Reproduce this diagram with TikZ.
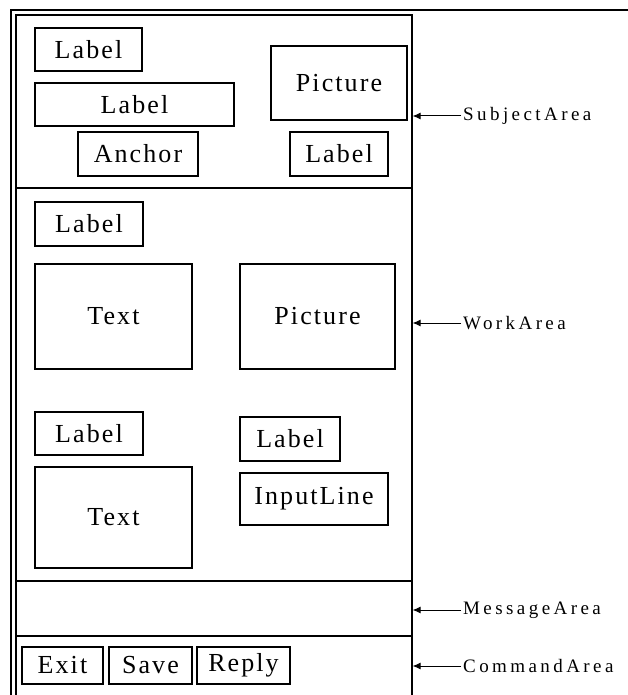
\documentclass[tikz,border=0pt]{standalone}
\usepackage{fontspec}
\usetikzlibrary{arrows.meta, positioning, calc}
\newfontfamily\widgetfont[LetterSpace=8]{Liberation Serif}
\newfontfamily\areafont[LetterSpace=18]{Liberation Serif}
\tikzset{
  widget/.style   = {draw, line width=1.2pt, inner sep=0pt,
                     font=\widgetfont\fontsize{26}{28}\selectfont},
  area/.style     = {draw, line width=1.2pt, inner sep=0pt, minimum width=396pt},
  arealabel/.style= {anchor=west, inner sep=2pt,
                     font=\areafont\fontsize{19}{21}\selectfont},
  pointer/.style  = {-{Latex[length=8pt,width=7pt]}, line width=1pt},
}

\begin{document}
\begin{tikzpicture}[x=1pt, y=-1pt]
  \useasboundingbox (0,0) rectangle (628,695);
  \clip (0,0) rectangle (628,695);
  % outer border
  \draw[line width=1.6pt] (11,700) -- (11,10) -- (628,10);
  % areas of the window
  \node[area, minimum height=173pt] (subject) at (214,101.5) {};
  \node[area, minimum height=393pt] (work)    at (214,384.5) {};
  \node[area, minimum height=55pt]  (message) at (214,608.5) {};
  \node[area, minimum height=104pt] (command) at (214,688) {};
  % subject area
  \node[widget, minimum width=107pt, minimum height=43pt] (sLabelA)  at (88.5,49.5)  {Label};
  \node[widget, minimum width=199pt, minimum height=43pt] (sLabelB)  at (134.5,104.5) {Label};
  \node[widget, minimum width=120pt, minimum height=44pt] (sAnchor)  at (138,154)    {Anchor};
  \node[widget, minimum width=136pt, minimum height=74pt] (sPicture) at (339,83)     {Picture};
  \node[widget, minimum width=98pt,  minimum height=44pt] (sLabelC)  at (339,154)    {Label};
  % work area
  \node[widget, minimum width=108pt, minimum height=44pt]  (wLabelA)   at (89,224)      {Label};
  \node[widget, minimum width=157pt, minimum height=105pt] (wTextA)    at (113.5,316.5) {Text};
  \node[widget, minimum width=155pt, minimum height=105pt] (wPicture)  at (317.5,316.5) {Picture};
  \node[widget, minimum width=108pt, minimum height=43pt]  (wLabelB)   at (89,433.5)    {Label};
  \node[widget, minimum width=157pt, minimum height=101pt] (wTextB)    at (113.5,517.5) {Text};
  \node[widget, minimum width=100pt, minimum height=44pt]  (wLabelC)   at (290,439)     {Label};
  \node[widget, minimum width=148pt, minimum height=52pt]  (wInput)    at (314,499)     {InputLine};
  % command area
  \node[widget, minimum width=81pt, minimum height=37pt] (cExit)  at (62.5,665.5)  {Exit};
  \node[widget, minimum width=83pt, minimum height=37pt] (cSave)  at (150.5,665.5) {Save};
  \node[widget, minimum width=93pt, minimum height=37pt] (cReply) at (243.5,665.5) {Reply};
  % names of the areas
  \node[arealabel] (lSubject) at (461,116) {SubjectArea};
  \node[arealabel] (lWork)    at (461,323) {WorkArea};
  \node[arealabel] (lMessage) at (461,610) {MessageArea};
  \node[arealabel] (lCommand) at (461,666) {CommandArea};
  \draw[pointer] (lSubject.west) -- (lSubject.west -| subject.east);
  \draw[pointer] (lWork.west)    -- (lWork.west -| work.east);
  \draw[pointer] (lMessage.west) -- (lMessage.west -| message.east);
  \draw[pointer] (lCommand.west) -- (lCommand.west -| command.east);
\end{tikzpicture}
\end{document}
